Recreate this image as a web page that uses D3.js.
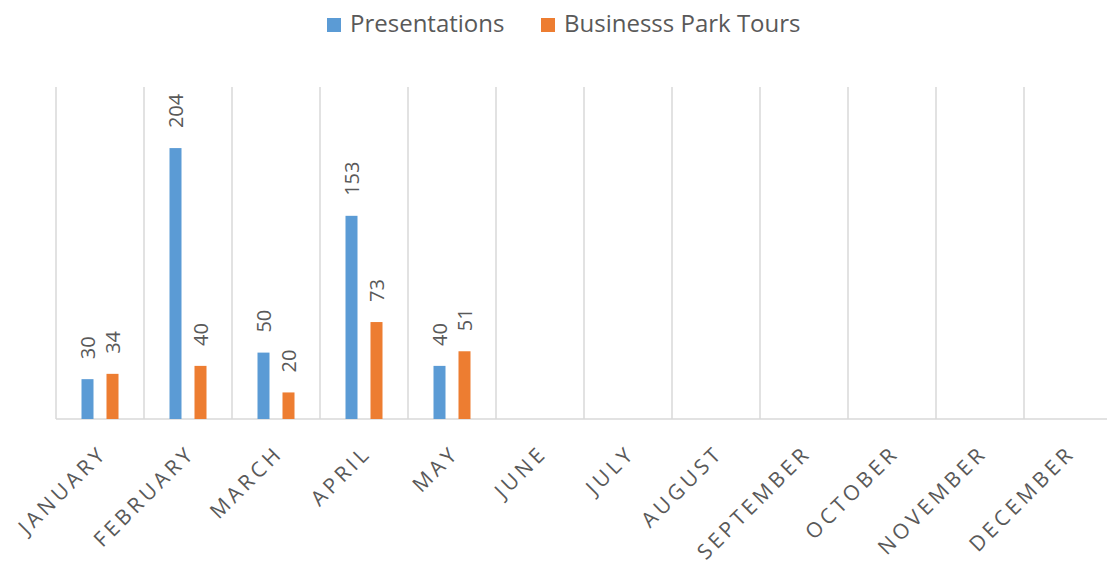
<!DOCTYPE html>
<html>
	<head>
		<title>Presentations and Park Tours</title>
		<script src="https://d3js.org/d3.v7.min.js" charset="utf-8"></script>
		<style>
			body {
				margin: 0;
				background: white;
				font-family: "Open Sans", sans-serif;
			}
		</style>
	</head>
	<body>
		<script>
		// chart values
		var months = ["JANUARY", "FEBRUARY", "MARCH", "APRIL", "MAY", "JUNE", "JULY",
			"AUGUST", "SEPTEMBER", "OCTOBER", "NOVEMBER", "DECEMBER"];
		var seriesNames = ["Presentations", "Businesss Park Tours"];
		var presentations = [30, 204, 50, 153, 40, null, null, null, null, null, null, null];
		var parkTours = [34, 40, 20, 73, 51, null, null, null, null, null, null, null];

		var width = 1107;
		var height = 569;
		var colors = ["#5b9bd5", "#ed7d31"];
		var textColor = "#595959";
		var gridColor = "#d9d9d9";

		var svg = d3.select("body")
			.append("svg")
			.attr("width", width)
			.attr("height", height);

		// x: one band per month, gridlines sit between months
		var x = d3.scaleBand()
			.domain(months)
			.range([56, 56 + 88 * months.length]);

		var xInner = d3.scaleBand()
			.domain(seriesNames)
			.range([0, x.bandwidth()])
			.paddingInner(0.52)
			.paddingOuter(1.02);

		var y = d3.scaleLinear()
			.domain([0, 250])
			.range([419, 87]);

		// vertical gridlines
		svg.append("g")
			.selectAll("line")
			.data(months)
			.enter()
			.append("line")
			.attr("x1", function(d){ return x(d); })
			.attr("x2", function(d){ return x(d); })
			.attr("y1", y(250))
			.attr("y2", y(0))
			.attr("stroke", gridColor)
			.attr("stroke-width", 1.5);

		// baseline
		svg.append("line")
			.attr("x1", x.range()[0])
			.attr("x2", width)
			.attr("y1", y(0))
			.attr("y2", y(0))
			.attr("stroke", gridColor)
			.attr("stroke-width", 1.5);

		var rows = [];
		months.forEach(function(m, i){
			rows.push({month: m, series: seriesNames[0], value: presentations[i], color: colors[0]});
			rows.push({month: m, series: seriesNames[1], value: parkTours[i], color: colors[1]});
		});
		rows = rows.filter(function(d){ return d.value != null; });

		var bars = svg.append("g");

		bars.selectAll("rect")
			.data(rows)
			.enter()
			.append("rect")
			.attr("x", function(d){ return x(d.month) + xInner(d.series); })
			.attr("width", xInner.bandwidth())
			.attr("y", function(d){ return y(d.value); })
			.attr("height", function(d){ return y(0) - y(d.value); })
			.attr("fill", function(d){ return d.color; });

		// value labels, rotated, above each bar
		bars.selectAll("text")
			.data(rows)
			.enter()
			.append("text")
			.attr("transform", function(d){
				var cx = x(d.month) + xInner(d.series) + xInner.bandwidth() / 2;
				return "translate(" + cx + "," + (y(d.value) - 20) + ") rotate(-90)";
			})
			.attr("dy", "0.36em")
			.attr("text-anchor", "start")
			.attr("fill", textColor)
			.style("font-size", "20px")
			.text(function(d){ return d.value; });

		// month labels at -45 degrees
		svg.append("g")
			.selectAll("text")
			.data(months)
			.enter()
			.append("text")
			.attr("transform", function(d){
				return "translate(" + (x(d) + x.bandwidth() / 2 - 2) + "," + 444 + ") rotate(-45)";
			})
			.attr("text-anchor", "end")
			.attr("dy", "0.7em")
			.attr("fill", textColor)
			.style("font-size", "21px")
			.style("letter-spacing", "3.8px")
			.text(function(d){ return d; });

		// legend
		var legendX = [327, 541];
		var legend = svg.append("g")
			.selectAll("g")
			.data(seriesNames)
			.enter()
			.append("g")
			.attr("transform", function(d, i){ return "translate(" + legendX[i] + ",18)"; });

		legend.append("rect")
			.attr("width", 14)
			.attr("height", 14)
			.attr("fill", function(d, i){ return colors[i]; });

		legend.append("text")
			.attr("x", 23)
			.attr("y", 14)
			.attr("fill", textColor)
			.style("font-size", "24px")
			.text(function(d){ return d; });
		</script>
	</body>
</html>
